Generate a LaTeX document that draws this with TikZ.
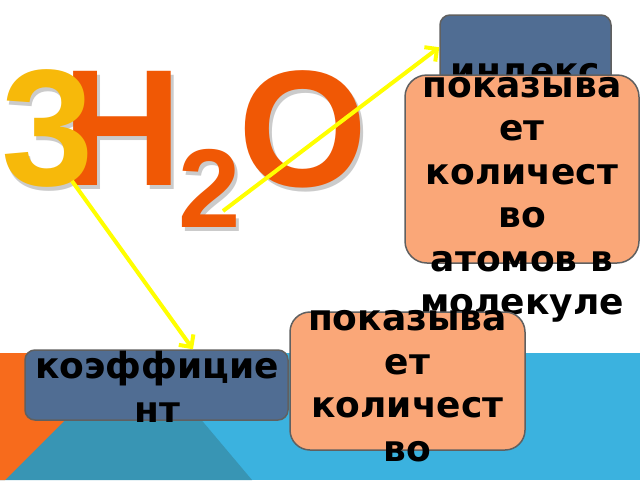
\documentclass[tikz,border=0pt]{standalone}
\usepackage{fontspec}
\setmainfont{DejaVu Sans}
\newfontfamily\formulafont{Liberation Sans}
\usepackage{tikz}
\usetikzlibrary{arrows,arrows.meta,shapes,positioning,calc}
\usepackage{xcolor}
\definecolor{bgblue}{RGB}{59,178,223}
\definecolor{bgteal}{RGB}{56,149,180}
\definecolor{bgorange}{RGB}{247,107,28}
\definecolor{boxslate}{RGB}{80,109,147}
\definecolor{boxpeach}{RGB}{250,167,120}
\definecolor{boxedge}{RGB}{96,96,96}
\definecolor{digitgold}{RGB}{247,185,10}
\definecolor{letterred}{RGB}{240,88,5}
\definecolor{hlyellow}{RGB}{255,255,0}
\tikzstyle{pointer} = [line width=4pt,-{Straight Barb[length=9pt,width=18pt]},color=hlyellow]
\tikzstyle{termbox} = [draw=boxedge, line width=1.5pt, fill=boxslate, rounded corners=10pt, inner sep=0pt]
\tikzstyle{notebox} = [draw=boxedge, line width=1.5pt, fill=boxpeach, rounded corners=22pt, inner sep=0pt]
\tikzstyle{boxtext} = [font=\fontsize{36}{43.5}\selectfont\bfseries, align=center, inner sep=0pt]
\tikzstyle{glyph} = [anchor=base, inner sep=0pt, font=\formulafont\bfseries\fontsize{166}{166}\selectfont]

\begin{document}
\begin{tikzpicture}[x=1pt, y=-1pt]
    \useasboundingbox (0,0) rectangle (640,480);
    % Background band
    \fill[white] (0,0) rectangle (640,480);
    \fill[bgblue] (0,353) rectangle (640,480);
    \fill[bgteal] (0,480) -- (132,353) -- (145,353) -- (252,480) -- cycle;
    \fill[bgorange] (0,353) -- (132,353) -- (5,480) -- (0,480) -- cycle;

    % Formula 3H2O
    \node[glyph, black!45, opacity=0.45] (Hshadow) at (125,189) {H};
    \node[glyph, black!45, opacity=0.45] (Oshadow) at (306,190) {O};
    \node[glyph, black!45, opacity=0.45, font=\formulafont\bfseries\fontsize{112}{112}\selectfont] (twoshadow) at (213,231) {2};
    \node[glyph, black!45, opacity=0.45] (threeshadow) at (50,189) {3};
    \node[glyph, letterred] (H) at (122,185) {H};
    \node[glyph, letterred] (O) at (303,186) {O};
    \node[glyph, letterred, font=\formulafont\bfseries\fontsize{112}{112}\selectfont] (two) at (210,227) {2};
    \node[glyph, digitgold] (three) at (48,185) {3};

    % Boxes
    \node[termbox, minimum width=171pt, minimum height=80pt] (idx) at (525.5,55) {};
    \node[boxtext, anchor=base] (idxtext) at (525.5,83) {индекс};
    \node[notebox, minimum width=234pt, minimum height=188pt] (atoms) at (522,169) {};
    \node[boxtext] (atomstext) at (522,200) {показыва\\ет\\количест\\во\\атомов в\\молекуле};
    \node[termbox, minimum width=263pt, minimum height=70pt] (coef) at (156.5,385) {};
    \node[boxtext] (coeftext) at (157,387) {коэффицие\\нт};
    \node[notebox, rounded corners=20pt, minimum width=235pt, minimum height=138pt] (mols) at (407.5,381) {};
    \node[boxtext] (molstext) at (407.5,386) {показыва\\ет\\количест\\во};

    % Pointers
    \coordinate (subfoot) at (223,211);
    \coordinate (threefoot) at (72,181);
    \coordinate (idxin) at ([yshift=-33pt]idx.north west);
    \coordinate (coefin) at ([xshift=36.5pt]coef.north);
    \draw[pointer] (subfoot) -- (idxin);
    \draw[pointer] (threefoot) -- (coefin);
\end{tikzpicture}
\end{document}
